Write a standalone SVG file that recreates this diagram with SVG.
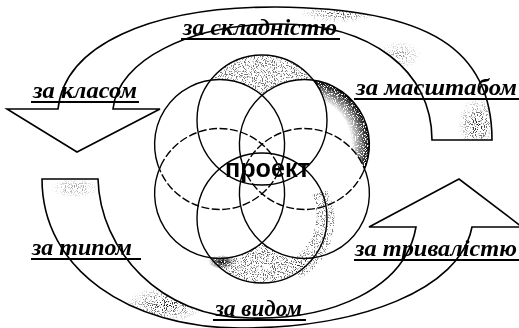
<svg xmlns="http://www.w3.org/2000/svg" width="519" height="328" viewBox="0 0 519 328">
<style>
.band{fill:#fff;stroke:#000;stroke-width:1.6;stroke-linejoin:miter}
.c{fill:none;stroke:#000;stroke-width:1.4}
.d{fill:none;stroke:#000;stroke-width:1.4;stroke-dasharray:8 2.5}
.lbl{font-family:"Liberation Serif","Times New Roman",serif;font-style:italic;font-weight:bold;font-size:23px;fill:#000}
.ul{stroke:#000;stroke-width:2}
.ctr{font-family:"Liberation Sans",Arial,sans-serif;font-weight:bold;font-size:25px;fill:#000}
</style>
<defs>
<filter id="spk" filterUnits="userSpaceOnUse" x="0" y="0" width="519" height="328">
<feTurbulence type="fractalNoise" baseFrequency="0.9" numOctaves="1" seed="4" result="n"/>
<feColorMatrix in="n" type="matrix" values="0 0 0 0 0 0 0 0 0 0 0 0 0 0 0 10 0 0 0 -5.3" result="dd"/>
<feComposite in="dd" in2="SourceGraphic" operator="in"/>
</filter>
<filter id="spkD" filterUnits="userSpaceOnUse" x="0" y="0" width="519" height="328">
<feTurbulence type="fractalNoise" baseFrequency="0.9" numOctaves="1" seed="9" result="n"/>
<feColorMatrix in="n" type="matrix" values="0 0 0 0 0 0 0 0 0 0 0 0 0 0 0 8 0 0 0 -2.8" result="dd"/>
<feComposite in="dd" in2="SourceGraphic" operator="in"/>
</filter>
<radialGradient id="rim" gradientUnits="userSpaceOnUse" cx="304.4" cy="144.5" r="65">
<stop offset="0.72" stop-color="#000" stop-opacity="0"/>
<stop offset="1" stop-color="#000" stop-opacity="1"/>
</radialGradient>
<radialGradient id="blob">
<stop offset="0" stop-color="#000" stop-opacity="1"/>
<stop offset="1" stop-color="#000" stop-opacity="0"/>
</radialGradient>
<clipPath id="topArrowClip"><path d="M58,109 C65,45 150,7 275,7 C430,8 492,50 492,140 L432,140 C432,70 370,24 280,24 C190,24 118,60 113,109 Z"/></clipPath>
<clipPath id="botArrowClip"><path d="M42,179 L98,179 C100,250 160,318 250,318 C330,320 405,290 416,227 L472,227 C460,290 360,328 240,328 C130,328 42,270 42,179 Z"/></clipPath>
</defs>

<g id="connectors">
<g id="arrow-top">
<path class="band" d="M7,109 L58,109 C65,45 150,7 275,7 C430,8 492,50 492,140 L432,140 C432,70 370,24 280,24 C190,24 118,60 113,109 L160,109 L77,152 Z"/>
<g clip-path="url(#topArrowClip)" filter="url(#spk)">
<ellipse cx="340" cy="13" rx="40" ry="10" fill="url(#blob)" opacity="0.8"/>
<ellipse cx="478" cy="125" rx="20" ry="28" fill="url(#blob)"/>
<ellipse cx="400" cy="55" rx="22" ry="14" fill="url(#blob)" opacity="0.5"/>
</g>
</g>
<g id="arrow-bottom">
<path class="band" d="M42,179 L98,179 C100,250 160,318 250,318 C330,320 405,290 416,227 L369,227 L459,179 L522,227 L472,227 C460,290 360,328 240,328 C130,328 42,270 42,179 Z"/>
<g clip-path="url(#botArrowClip)" filter="url(#spk)">
<ellipse cx="165" cy="305" rx="40" ry="18" fill="url(#blob)"/>
<ellipse cx="75" cy="188" rx="25" ry="10" fill="url(#blob)" opacity="0.5"/>
</g>
</g>
</g>

<g id="node-flower">
<g filter="url(#spk)">
<path d="M210.7,80.1 A65,65 0 0 1 313.3,80.1 A65,65 0 0 0 262,95.2 A65,65 0 0 0 210.7,80.1 Z" fill="#000" opacity="0.55"/>
<path d="M210.7,257.9 A65,65 0 0 0 313.3,257.9 A65,65 0 0 1 262,242.8 A65,65 0 0 1 210.7,257.9 Z" fill="#000" opacity="0.6"/>
<path d="M327,190 A65,65 0 0 1 300,278 L290,260 A50,50 0 0 0 312,195 Z" fill="#000" opacity="0.5"/>
</g>
<g filter="url(#spkD)">
<path d="M313.3,80.1 A65,65 0 0 1 364.6,169 A65,65 0 0 0 325.8,132.15 A65,65 0 0 0 313.3,80.1 Z" fill="url(#rim)"/>
<ellipse cx="222" cy="262" rx="14" ry="7" fill="url(#blob)"/>
</g>
<circle class="c" cx="262" cy="120" r="65"/>
<circle class="c" cx="262" cy="218" r="65"/>
<path class="c" d="M160.7,172 A65,65 0 1 1 278.5,172"/>
<path class="d" d="M278.5,172 A65,65 0 0 1 160.7,172"/>
<path class="c" d="M245.5,172 A65,65 0 1 1 363.3,172"/>
<path class="d" d="M363.3,172 A65,65 0 0 1 245.5,172"/>
<path class="c" d="M278.5,166 A65,65 0 1 1 160.7,166"/>
<path class="d" d="M160.7,166 A65,65 0 0 1 278.5,166"/>
<path class="c" d="M363.3,166 A65,65 0 1 1 245.5,166"/>
<path class="d" d="M245.5,166 A65,65 0 0 1 363.3,166"/>
</g>
<g id="node-center"><text class="ctr" x="225" y="177" textLength="85" lengthAdjust="spacingAndGlyphs">проект</text></g>

<g id="label-skladnist"><text class="lbl" x="183" y="35" textLength="154" lengthAdjust="spacingAndGlyphs">за складністю</text><line class="ul" x1="181" y1="39" x2="340" y2="39"/></g>
<g id="label-klas"><text class="lbl" x="33" y="98" textLength="104" lengthAdjust="spacingAndGlyphs">за класом</text><line class="ul" x1="31" y1="102" x2="139" y2="102"/></g>
<g id="label-masshtab"><text class="lbl" x="356" y="95" textLength="161" lengthAdjust="spacingAndGlyphs">за масштабом</text><line class="ul" x1="354" y1="99" x2="519" y2="99"/></g>
<g id="label-typ"><text class="lbl" x="32" y="255" textLength="100" lengthAdjust="spacingAndGlyphs">за типом</text><line class="ul" x1="31" y1="259" x2="141" y2="259"/></g>
<g id="label-tryvalist"><text class="lbl" x="355" y="256" textLength="162" lengthAdjust="spacingAndGlyphs">за тривалістю</text><line class="ul" x1="354" y1="260" x2="519" y2="260"/></g>
<g id="label-vyd"><text class="lbl" x="215" y="316" textLength="87" lengthAdjust="spacingAndGlyphs">за видом</text><line class="ul" x1="213" y1="320" x2="306" y2="320"/></g>
</svg>
